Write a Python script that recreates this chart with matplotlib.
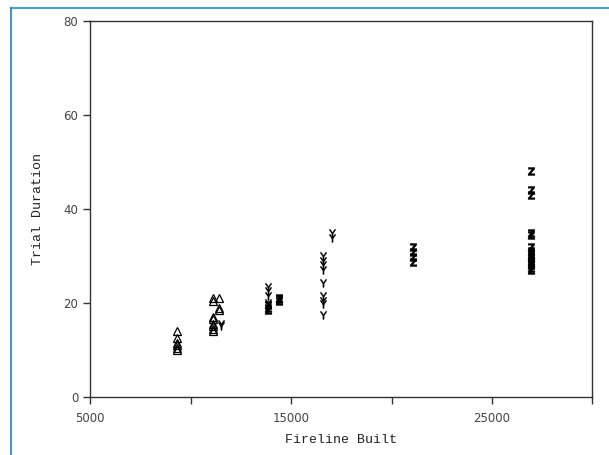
import matplotlib
matplotlib.use("Agg")
import matplotlib.pyplot as plt
from matplotlib.lines import Line2D

# Data
tri_x = [9350, 9350, 9350, 9350, 9350, 9350,
         11100, 11100, 11100, 11100, 11100, 11100, 11100, 11100,
         11400, 11400, 11400]
tri_y = [14, 12.5, 11.5, 11, 10.5, 10,
         21, 20.5, 17, 16.5, 15.5, 15, 14.5, 14,
         21, 19, 18.5]

y_x = [11500, 11500,
       13850, 13850, 13850, 13850, 13850,
       16600, 16600, 16600, 16600, 16600, 16600, 16600, 16600, 16600,
       17050, 17050]
y_y = [15.5, 15,
       23.5, 22.5, 21.5, 20, 19.5,
       30, 29, 28, 27, 24.3, 21.5, 20.5, 19.8, 17.4,
       35, 33.8]

z_x = [13850, 13850, 13850,
       14400, 14400, 14400,
       21070, 21070, 21070, 21070,
       26950, 26950, 26950, 26950, 26950, 26950, 26950, 26950,
       26950, 26950, 26950, 26950, 26950, 26950, 26950]
z_y = [19, 18.5, 19.5,
       20.8, 20.4, 21,
       32, 30.8, 29.8, 28.8,
       48, 44, 43, 35, 34.5, 32, 31, 30.5,
       30, 29.5, 29, 28.5, 28, 27.5, 27]

x_ticks = [5000, 15000, 25000]
x_minor = [10000, 20000, 30000]
y_ticks = [0, 20, 40, 60, 80]

fig = plt.figure(figsize=(6.09, 4.55), dpi=100)
ax = fig.add_axes([0.1478, 0.1275, 0.9729 - 0.1478, 0.9538 - 0.1275])

ax.plot(tri_x, tri_y, linestyle='none', marker='^', markersize=5.8,
        markerfacecolor='none', markeredgecolor='black', markeredgewidth=0.9)
ax.plot(y_x, y_y, linestyle='none', marker=r'$\mathsf{Y}$', markersize=5.5,
        color='black', markeredgewidth=0.4)
ax.plot(z_x, z_y, linestyle='none', marker=r'$\mathbf{Z}$', markersize=5.5,
        color='black', markeredgewidth=0.4)

ax.set_xlim(5000, 30000)
ax.set_ylim(0, 80)
ax.set_xticks(x_ticks)
ax.set_xticks(x_minor, minor=True)
ax.set_yticks(y_ticks)
ax.tick_params(axis='both', which='both', direction='out', length=5,
               width=1, color='#333333', labelsize=8.5, labelcolor='#444444')
ax.tick_params(axis='x', pad=6)
for s in ax.spines.values():
    s.set_color('#333333')
    s.set_linewidth(1)

ax.set_xlabel('Fireline Built', family='Liberation Mono', fontsize=9.5,
              color='#222222', labelpad=6)
ax.set_ylabel('Trial Duration', family='Liberation Mono', fontsize=9.5,
              color='#222222', labelpad=14)

# outer blue frame (top and left)
fig.add_artist(Line2D([11/609, 1.0], [1 - 8/455, 1 - 8/455],
                      transform=fig.transFigure, color='#3fa6d8', linewidth=1.5))
fig.add_artist(Line2D([11/609, 11/609], [0, 1 - 8/455],
                      transform=fig.transFigure, color='#1f7fb4', linewidth=1.2))

fig.savefig('out.png', dpi=100)
